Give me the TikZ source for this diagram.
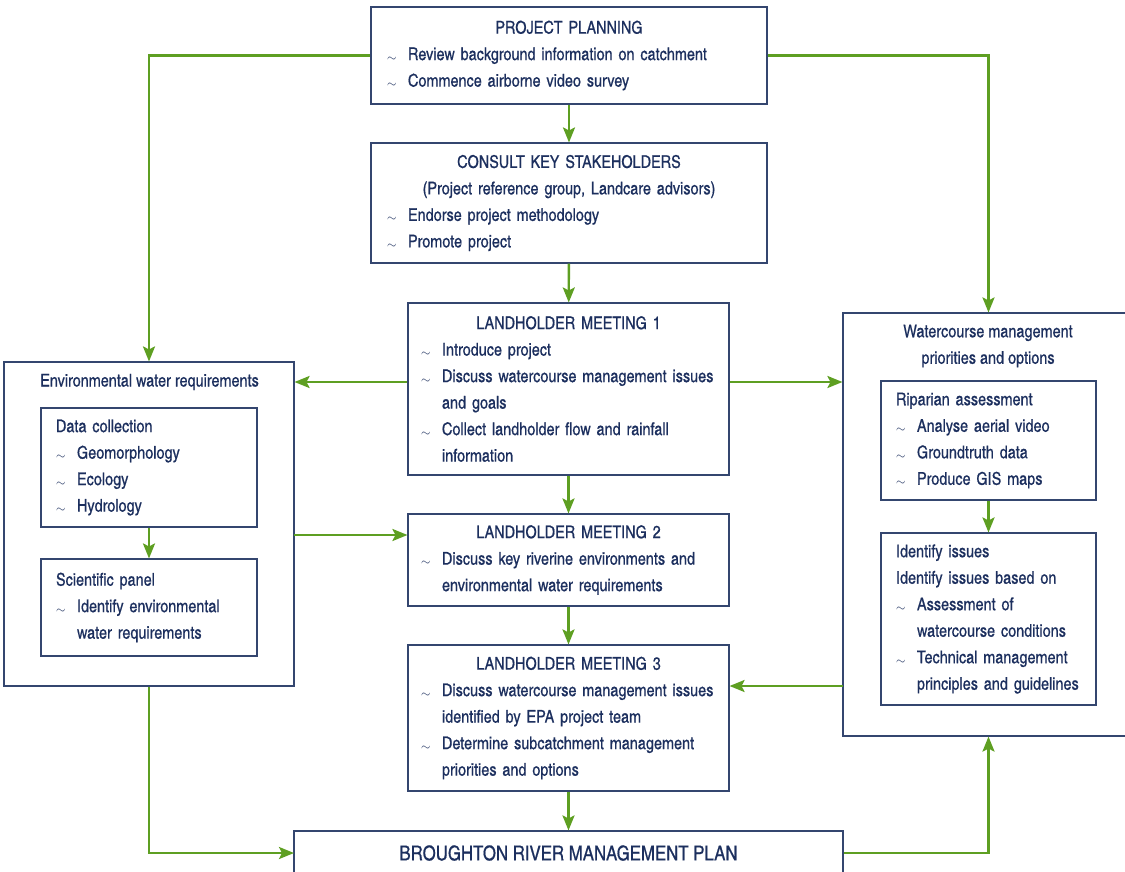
\documentclass[tikz,border=0pt]{standalone}
\usepackage{fontspec}
\setmainfont{TeX Gyre Heros Cn}[RawFeature={embolden=0.6}]
\usetikzlibrary{arrows.meta}

\definecolor{ink}{HTML}{1C2F5E}
\definecolor{boxline}{HTML}{34466F}
\definecolor{leaf}{HTML}{5E9F22}

% item with a tilde and a hanging indent
\newcommand\itm{\par\noindent\hangindent=21pt\hangafter=1\makebox[21pt][l]{\raisebox{-1pt}{\fontsize{13}{13}\selectfont$\sim$}}}
\newcommand\hdr[1]{{\centering #1\par}}

\tikzset{
  box/.style={draw=boxline, line width=1.1pt, fill=white, inner sep=0pt, text=ink,
    font=\fontsize{17.6}{26.5}\selectfont, align=left},
  flow/.style={draw=leaf, line width=2.4pt, -{Stealth[length=15pt,width=12pt,inset=3pt]}}
}

\begin{document}
\begin{tikzpicture}[x=1pt,y=-1pt]
\clip (0,0) rectangle (1125,871);
\fill[white] (0,0) rectangle (1125,871);

% centre column
\node[box, minimum width=396pt, minimum height=97pt, text width=364pt] (pp) at (569,55.5)
  {\hdr{PROJECT PLANNING}\itm Review background information on catchment\itm Commence airborne video survey\par};
\node[box, minimum width=396pt, minimum height=120pt, text width=364pt] (cs) at (569,203)
  {\hdr{CONSULT KEY STAKEHOLDERS}\hdr{(Project reference group, Landcare advisors)}\itm Endorse project methodology\itm Promote project\par};
\node[box, minimum width=321pt, minimum height=172pt, text width=295pt] (lm1) at (568.5,389)
  {\hdr{LANDHOLDER MEETING 1}\itm Introduce project\itm Discuss watercourse management issues\newline and goals\itm Collect landholder flow and rainfall\newline information\par};
\node[box, minimum width=321pt, minimum height=92pt, text width=295pt] (lm2) at (568.5,560)
  {\hdr{LANDHOLDER MEETING 2}\itm Discuss key riverine environments and\newline environmental water requirements\par};
\node[box, minimum width=321pt, minimum height=146pt, text width=295pt] (lm3) at (568.5,718)
  {\hdr{LANDHOLDER MEETING 3}\itm Discuss watercourse management issues\newline identified by EPA project team\itm Determine subcatchment management\newline priorities and options\par};
\node[box, minimum width=549pt, minimum height=64pt] (br) at (568.5,863) {};
\node[text=ink, font=\fontsize{20.5}{24}\selectfont] (brt) at (568.5,853) {BROUGHTON RIVER MANAGEMENT PLAN};

% left column
\node[box, minimum width=290pt, minimum height=324pt] (env) at (149,524) {};
\node[text=ink, font=\fontsize{17.6}{26.5}\selectfont] (envt) at (149.5,382) {Environmental water requirements};
\node[box, minimum width=216pt, minimum height=119pt, text width=186pt] (dc) at (149,467.5)
  {Data collection\itm Geomorphology\itm Ecology\itm Hydrology\par};
\node[box, minimum width=216pt, minimum height=97pt, text width=186pt] (sp) at (149,607.5)
  {Scientific panel\itm Identify environmental\newline water requirements\par};

% right column
\node[box, minimum width=284pt, minimum height=423pt] (wc) at (985,524.5) {};
\node[text=ink, font=\fontsize{17.6}{26.5}\selectfont, align=center] (wct) at (988,346)
  {Watercourse management\\priorities and options};
\node[box, minimum width=215pt, minimum height=119pt, text width=185pt] (rip) at (988.5,440.5)
  {Riparian assessment\itm Analyse aerial video\itm Groundtruth data\itm Produce GIS maps\par};
\node[box, minimum width=215pt, minimum height=172pt, text width=185pt] (ii) at (988.5,619)
  {Identify issues\par\noindent Identify issues based on\itm Assessment of\newline watercourse conditions\itm Technical management\newline principles and guidelines\par};

% connectors
\coordinate (l1w) at ([yshift=7pt]lm1.west);
\coordinate (l1e) at ([yshift=7pt]lm1.east);
\coordinate (ee) at (294,535);
\coordinate (ww) at (843,686);
\coordinate (brw) at (294,853);

\draw[flow] (pp.west) -| (env.north);
\draw[flow] (pp.east) -| (rip.north |- wc.north);
\draw[flow] (pp) -- (cs);
\draw[flow] (cs) -- (lm1);
\draw[flow] (lm1) -- (lm2);
\draw[flow] (lm2) -- (lm3);
\draw[flow] (lm3) -- (br);
\draw[flow] (l1w) -- (l1w -| env.east);
\draw[flow] (l1e) -- (l1e -| wc.west);
\draw[flow] (ee) -- (ee -| lm2.west);
\draw[flow] (ww) -- (ww -| lm3.east);
\draw[flow] (dc) -- (sp);
\draw[flow] (rip) -- (ii);
\draw[flow] (env.south) |- (brw);
\draw[flow] (brw -| br.east) -| (rip.south |- wc.south);
\end{tikzpicture}
\end{document}
